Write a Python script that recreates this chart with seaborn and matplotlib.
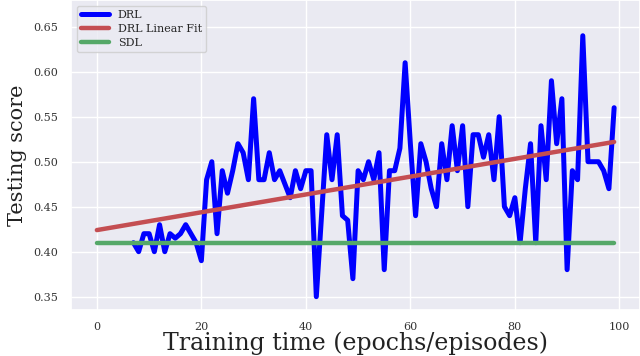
import numpy as np
import pandas as pd
import matplotlib
matplotlib.use("Agg")
import matplotlib.pyplot as plt
import seaborn as sns

# DRL testing score per epoch
drl_epochs = list(range(7, 100))
drl_scores = [
    0.41, 0.40, 0.42, 0.42, 0.40, 0.43, 0.40, 0.42, 0.415, 0.42,   # 7-16
    0.43, 0.42, 0.41, 0.39, 0.48, 0.50, 0.42, 0.49, 0.465, 0.49,   # 17-26
    0.52, 0.51, 0.48, 0.57, 0.48, 0.48, 0.51, 0.48, 0.49, 0.475,   # 27-36
    0.46, 0.49, 0.47, 0.49, 0.49, 0.35, 0.44, 0.53, 0.48, 0.53,    # 37-46
    0.44, 0.435, 0.37, 0.49, 0.48, 0.50, 0.48, 0.51, 0.38, 0.49,   # 47-56
    0.49, 0.515, 0.61, 0.52, 0.44, 0.52, 0.50, 0.47, 0.45, 0.52,   # 57-66
    0.48, 0.54, 0.49, 0.54, 0.45, 0.53, 0.53, 0.505, 0.53, 0.48,   # 67-76
    0.55, 0.45, 0.44, 0.46, 0.41, 0.47, 0.52, 0.41, 0.54, 0.48,    # 77-86
    0.59, 0.52, 0.57, 0.38, 0.49, 0.48, 0.64, 0.50, 0.50, 0.50,    # 87-96
    0.49, 0.47, 0.56,                                              # 97-99
]

# linear fit of DRL, end points
fit_epochs = [0, 99]
fit_scores = [0.424, 0.522]

# SDL baseline
sdl_epochs = [0, 99]
sdl_scores = [0.41, 0.41]

sns.set_theme(style="darkgrid")
plt.rcParams["font.family"] = ["DejaVu Serif"]

fig = plt.figure(figsize=(6.4, 3.56), dpi=100)
ax = fig.add_axes([71 / 640, 46 / 356, 569 / 640, 310 / 356])

sns.lineplot(x=drl_epochs, y=drl_scores, color="blue", linewidth=3.6, label="DRL", ax=ax)
sns.lineplot(x=fit_epochs, y=fit_scores, color="#c44e52", linewidth=3.2, label="DRL Linear Fit", ax=ax)
sns.lineplot(x=sdl_epochs, y=sdl_scores, color="#55a868", linewidth=3.2, label="SDL", ax=ax)

ax.set_xlim(-4.95, 103.95)
ax.set_ylim(0.3352, 0.6797)
ax.set_xticks([0, 20, 40, 60, 80, 100])
ax.set_yticks([0.35, 0.40, 0.45, 0.50, 0.55, 0.60, 0.65])
ax.tick_params(labelsize=8, colors="#333333")
ax.tick_params(axis="x", pad=2.5)

ax.set_xlabel("Training time (epochs/episodes)", fontsize=17, color="#222222")
ax.xaxis.set_label_coords(0.5, -0.07)
ax.set_ylabel("Testing score", fontsize=15, color="#222222")

ax.legend(loc="upper left", fontsize=8, handlelength=2.5, labelspacing=0.35)

fig.savefig("out.png", dpi=100)
